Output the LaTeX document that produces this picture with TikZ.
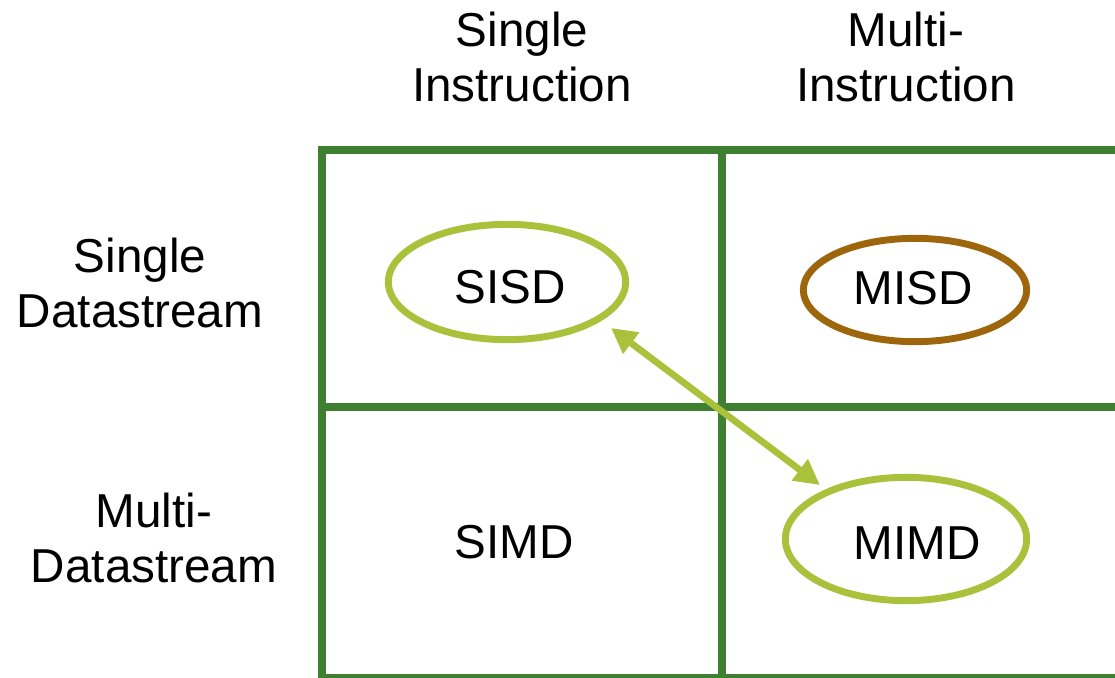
\documentclass[tikz,border=0pt]{standalone}
\usepackage{fontspec}
\setmainfont{Liberation Sans}
\usetikzlibrary{arrows.meta,calc,shapes.geometric}
\definecolor{gridgreen}{HTML}{3F7F31}
\definecolor{limegreen}{HTML}{A9C13B}
\definecolor{ochre}{HTML}{9E660C}
\begin{document}
\begin{tikzpicture}[x=0.75pt,y=-0.75pt,
  every node/.style={font=\fontsize{35.7}{41.5}\selectfont, inner sep=0pt, outer sep=0pt, align=center},
  gridline/.style={draw=gridgreen, line width=6.2pt},
  ring/.style={ellipse, draw, line width=5.2pt},
  link/.style={draw=limegreen, line width=5pt,
    {Triangle[length=19pt,width=19pt]}-{Triangle[length=19pt,width=19pt]}}
]
\useasboundingbox (0,0) rectangle (1115,678);
\clip (0,0) rectangle (1115,678);

% column and row headings
\node (colsi) at (522,57) {Single\\Instruction};
\node (colmi) at (906,57) {Multi-\\Instruction};
\node (rowsd) at (140,283) {Single\\Datastream};
\node (rowmd) at (154,538) {Multi-\\Datastream};

% the 2x2 grid
\draw[gridline] (1200,150) -- (322,150) -- (322,678) -- (1200,678);
\draw[gridline] (722,150) -- (722,678);
\draw[gridline] (322,407) -- (1200,407);

% highlighted categories
\node[ring, draw=limegreen, minimum width=178pt, minimum height=86.5pt] (sisd) at (507,282) {};
\node[ring, draw=ochre, minimum width=167.5pt, minimum height=77.5pt] (misd) at (915,290) {};
\node[ring, draw=limegreen, minimum width=181pt, minimum height=92.5pt] (mimd) at (906,539) {};

% cell labels
\node (tsisd) at (510,287) {SISD};
\node (tmisd) at (913,288) {MISD};
\node (tsimd) at (514,542) {SIMD};
\node (tmimd) at (917,543) {MIMD};

% relation between SISD and MIMD
\draw[link] ($(sisd.center)+(104,46)$) -- ($(mimd.center)+(-86,-54)$);
\end{tikzpicture}
\end{document}
